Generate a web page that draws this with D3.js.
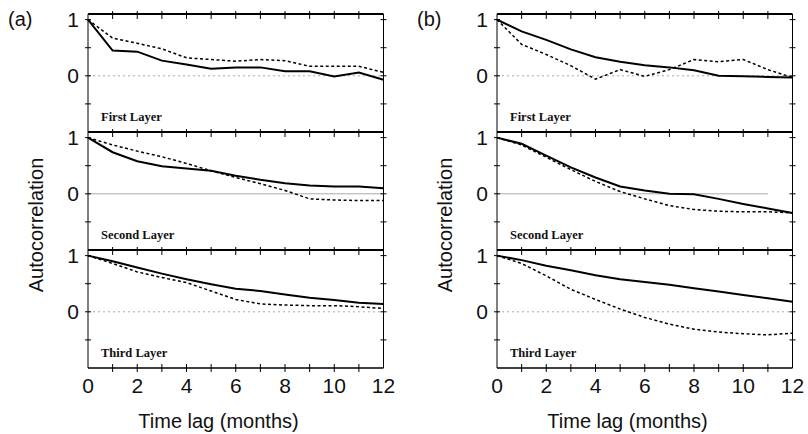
<!DOCTYPE html>
<html>
<head>
<meta charset="utf-8">
<script src="https://cdn.jsdelivr.net/npm/d3@7"></script>
<style>
  html, body { margin: 0; padding: 0; background: #fff; }
  svg { display: block; }
  .tick-label { font-family: "Liberation Sans", Arial, sans-serif; font-size: 21px; fill: #111; }
  .axis-title { font-family: "Liberation Sans", Arial, sans-serif; font-size: 20px; fill: #111; }
  .layer-name { font-family: "Liberation Serif", "Times New Roman", serif; font-size: 12.5px; font-weight: bold; fill: #111; }
</style>
</head>
<body>
<div id="chart"></div>
<script>
// 数据
const lags = [0, 1, 2, 3, 4, 5, 6, 7, 8, 9, 10, 11, 12]
const xTickValues = [0, 2, 4, 6, 8, 10, 12]
const yTickValues = [1, 0]
const panelNames = ['(a)', '(b)']
const layerNames = ['First Layer', 'Second Layer', 'Third Layer']

// (a) 实线 / 虚线
const aFirstSolid = [1.0, 0.45, 0.43, 0.27, 0.20, 0.125, 0.15, 0.15, 0.08, 0.08, -0.01, 0.06, -0.07]
const aFirstDashed = [1.0, 0.67, 0.58, 0.48, 0.32, 0.29, 0.26, 0.29, 0.27, 0.17, 0.17, 0.17, 0.06]
const aSecondSolid = [1.0, 0.74, 0.58, 0.49, 0.45, 0.41, 0.32, 0.25, 0.19, 0.15, 0.13, 0.13, 0.10]
const aSecondDashed = [1.0, 0.87, 0.76, 0.66, 0.54, 0.41, 0.29, 0.18, 0.06, -0.09, -0.11, -0.12, -0.12]
const aThirdSolid = [1.0, 0.90, 0.79, 0.68, 0.58, 0.49, 0.41, 0.37, 0.31, 0.25, 0.21, 0.16, 0.14]
const aThirdDashed = [1.0, 0.86, 0.71, 0.61, 0.52, 0.37, 0.22, 0.14, 0.12, 0.11, 0.11, 0.09, 0.06]

// (b) 实线 / 虚线
const bFirstSolid = [1.0, 0.79, 0.64, 0.47, 0.33, 0.25, 0.19, 0.15, 0.10, 0.0, -0.01, -0.02, -0.03]
const bFirstDashed = [1.0, 0.56, 0.38, 0.18, -0.06, 0.11, -0.01, 0.11, 0.29, 0.25, 0.29, 0.11, -0.03]
const bSecondSolid = [1.0, 0.89, 0.68, 0.47, 0.29, 0.13, 0.06, 0.0, -0.01, -0.09, -0.18, -0.26, -0.34]
const bSecondDashed = [1.0, 0.87, 0.65, 0.43, 0.22, 0.04, -0.09, -0.21, -0.28, -0.31, -0.32, -0.32, -0.34]
const bThirdSolid = [1.0, 0.92, 0.82, 0.74, 0.65, 0.58, 0.53, 0.48, 0.42, 0.36, 0.30, 0.24, 0.18]
const bThirdDashed = [1.0, 0.86, 0.64, 0.40, 0.22, 0.05, -0.10, -0.22, -0.31, -0.36, -0.39, -0.41, -0.38]

const panels = [
  { name: panelNames[0], layers: [[aFirstSolid, aFirstDashed], [aSecondSolid, aSecondDashed], [aThirdSolid, aThirdDashed]] },
  { name: panelNames[1], layers: [[bFirstSolid, bFirstDashed], [bSecondSolid, bSecondDashed], [bThirdSolid, bThirdDashed]] }
]

// 布局
const width = 808
const height = 434
const plotLeft = [88, 497]
const plotWidth = 295.5
const plotTop = 14
const layerHeight = 118

const svg = d3.select('#chart')
  .append('svg')
  .attr('width', width)
  .attr('height', height)

panels.forEach((panel, p) => {
  const left = plotLeft[p]
  const x = d3.scaleLinear().domain([0, 12]).range([left, left + plotWidth])
  const g = svg.append('g').attr('class', 'panel')

  // 面板标签
  g.append('text')
    .attr('class', 'axis-title')
    .attr('x', left - 80)
    .attr('y', 26)
    .text(panel.name)

  panel.layers.forEach((series, k) => {
    const top = plotTop + k * layerHeight
    const y = d3.scaleLinear().domain([-1, 1.1]).range([top + layerHeight, top])

    // 零线
    g.append('line')
      .attr('x1', x(0)).attr('x2', x(p === 1 && k === 1 ? 11 : 12))
      .attr('y1', y(0)).attr('y2', y(0))
      .attr('stroke', '#aaa')
      .attr('stroke-width', 1)
      .attr('stroke-dasharray', k === 1 ? null : '2,3')

    // 顶部粗线
    g.append('line')
      .attr('x1', x(0)).attr('x2', x(12))
      .attr('y1', top).attr('y2', top)
      .attr('stroke', '#000')
      .attr('stroke-width', 2)

    // 左右轴线
    g.selectAll(null)
      .data([0, 12])
      .join('line')
      .attr('x1', (d) => x(d)).attr('x2', (d) => x(d))
      .attr('y1', top).attr('y2', top + layerHeight)
      .attr('stroke', '#000')
      .attr('stroke-width', 1)

    // x 刻度（顶部向下）
    g.selectAll(null)
      .data(lags.slice(1, 12))
      .join('line')
      .attr('x1', (d) => x(d)).attr('x2', (d) => x(d))
      .attr('y1', top - 3).attr('y2', top + 5)
      .attr('stroke', '#000')
      .attr('stroke-width', 1)

    // y 刻度
    const yMinor = [1, 0.5, 0, -0.5]
    g.selectAll(null)
      .data(yMinor)
      .join('line')
      .attr('x1', x(0) - 3).attr('x2', x(0) + 3)
      .attr('y1', (d) => y(d)).attr('y2', (d) => y(d))
      .attr('stroke', '#000')
    g.selectAll(null)
      .data(yMinor)
      .join('line')
      .attr('x1', x(12) - 3).attr('x2', x(12) + 3)
      .attr('y1', (d) => y(d)).attr('y2', (d) => y(d))
      .attr('stroke', '#000')

    g.selectAll(null)
      .data(yTickValues)
      .join('text')
      .attr('class', 'tick-label')
      .attr('text-anchor', 'end')
      .attr('x', x(0) - 9)
      .attr('y', (d) => y(d) + 7.5)
      .text((d) => d)

    // 曲线
    const line = d3.line()
      .x((d, i) => x(lags[i]))
      .y((d) => y(d))

    g.append('path')
      .datum(series[1])
      .attr('fill', 'none')
      .attr('stroke', '#000')
      .attr('stroke-width', 1.5)
      .attr('stroke-dasharray', '3,2.5')
      .attr('d', line)

    g.append('path')
      .datum(series[0])
      .attr('fill', 'none')
      .attr('stroke', '#000')
      .attr('stroke-width', 2)
      .attr('d', line)

    g.append('text')
      .attr('class', 'layer-name')
      .attr('x', x(0) + 13)
      .attr('y', top + layerHeight - 11)
      .text(layerNames[k])
  })

  const bottom = plotTop + 3 * layerHeight

  // 底部轴线
  g.append('line')
    .attr('x1', x(0)).attr('x2', x(12))
    .attr('y1', bottom).attr('y2', bottom)
    .attr('stroke', '#000')
    .attr('stroke-width', 1.5)
  g.selectAll(null)
    .data(lags.slice(1, 12))
    .join('line')
    .attr('x1', (d) => x(d)).attr('x2', (d) => x(d))
    .attr('y1', bottom - 4).attr('y2', bottom + 4)
    .attr('stroke', '#000')

  g.selectAll(null)
    .data(xTickValues)
    .join('text')
    .attr('class', 'tick-label')
    .attr('text-anchor', 'middle')
    .attr('x', (d) => x(d))
    .attr('y', bottom + 25)
    .text((d) => d)

  g.append('text')
    .attr('class', 'axis-title')
    .attr('text-anchor', 'middle')
    .attr('x', x(5.3))
    .attr('y', 428)
    .text('Time lag (months)')

  g.append('text')
    .attr('class', 'axis-title')
    .attr('text-anchor', 'middle')
    .attr('transform', `translate(${left - 45}, 225) rotate(-90)`)
    .text('Autocorrelation')
})
</script>
</body>
</html>
